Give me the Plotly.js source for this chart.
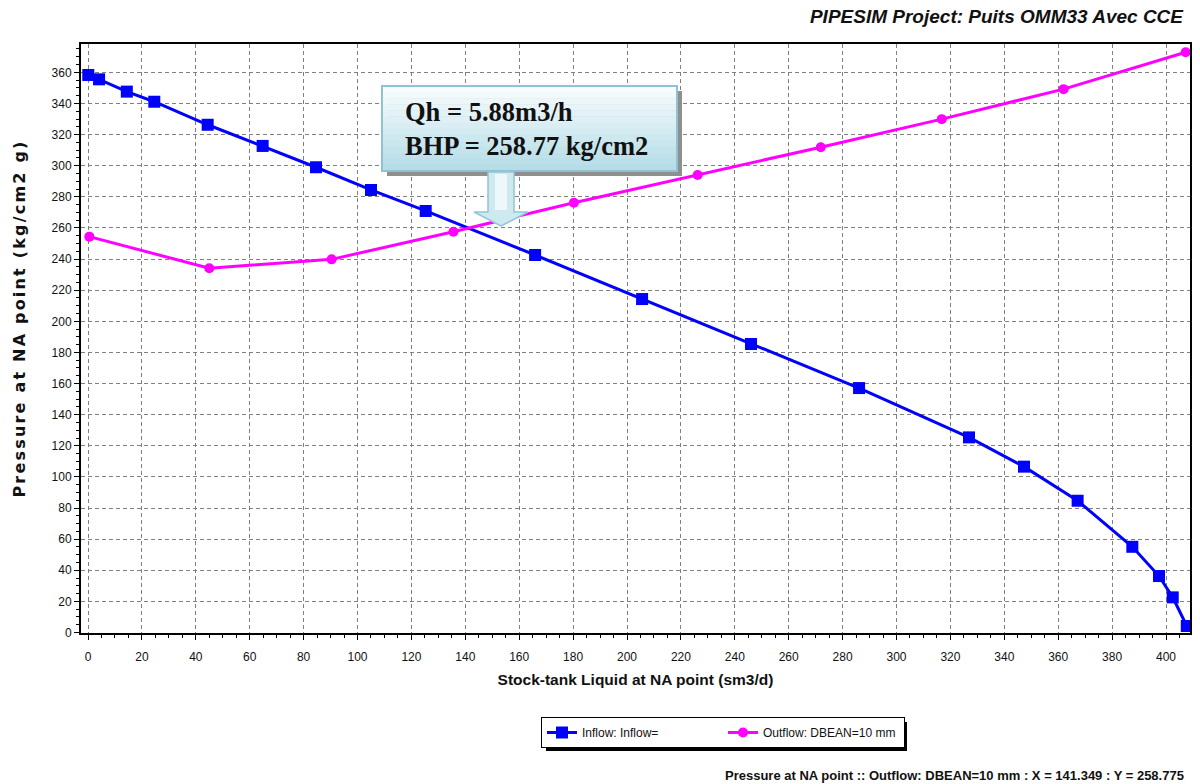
<!DOCTYPE html>
<html>
<head>
<meta charset="utf-8">
<script src="https://cdn.plot.ly/plotly-3.0.1.min.js"></script>
<style>
html,body{margin:0;padding:0;background:#fff;}
#chart{width:1200px;height:784px;}
#chart .ytitle{letter-spacing:2.2px; translate:0px -20px;}
</style>
</head>
<body>
<div id="chart"></div>
<script>
// ---- data ----
var inflowQ = [0.1, 4.1, 14.4, 24.6, 44.4, 64.8, 84.6, 105.0, 125.3, 165.9, 205.6, 246.0, 286.1, 326.9, 347.3, 367.2, 387.5, 397.4, 402.5, 407.7];
var inflowP = [358.3, 355.5, 347.6, 341.1, 326.3, 312.7, 299.0, 284.4, 270.9, 242.6, 214.3, 185.4, 157.1, 125.4, 106.6, 84.7, 55.1, 36.3, 22.6, 4.2];
var outflowQ = [0.5, 45.0, 90.4, 135.6, 180.3, 226.2, 271.9, 316.8, 362.0, 407.3];
var outflowP = [254.4, 234.1, 239.8, 257.6, 276.2, 294.0, 311.9, 329.9, 349.2, 372.9];
var seriesNames = ['Inflow: Inflow=', 'Outflow: DBEAN=10 mm'];
var chartTitle = 'PIPESIM Project: Puits OMM33 Avec CCE';
var xTitle = 'Stock-tank Liquid at NA point (sm3/d)';
var yTitle = 'Pressure at NA point (kg/cm2 g)';
var boxText = 'Qh = 5.88m3/h<br>BHP = 258.77 kg/cm2';
var statusText = 'Pressure at NA point :: Outflow: DBEAN=10 mm : X = 141.349 : Y = 258.775';

// ---- layout geometry (pixels) ----
var W = 1200, H = 784;
var M = {l: 81, r: 10, t: 44, b: 151};
var PW = W - M.l - M.r, PH = H - M.t - M.b;
function px(x) { return (x - M.l) / PW; }
function py(y) { return 1 - (y - M.t) / PH; }

var shapes = [];
// callout box shadow
shapes.push({type: 'rect', xref: 'paper', yref: 'paper', x0: px(387), x1: px(682), y0: py(91), y1: py(176),
  fillcolor: '#8f8f8f', line: {width: 0}, layer: 'above'});
// gradient fill of the box
var nStrips = 14, boxTop = 86, boxBot = 171, c0 = [250, 253, 254], c1 = [178, 219, 230];
for (var i = 0; i < nStrips; i++) {
  var t = (i + 0.5) / nStrips;
  var c = 'rgb(' + Math.round(c0[0] + (c1[0] - c0[0]) * t) + ',' + Math.round(c0[1] + (c1[1] - c0[1]) * t) + ',' + Math.round(c0[2] + (c1[2] - c0[2]) * t) + ')';
  shapes.push({type: 'rect', xref: 'paper', yref: 'paper', x0: px(382), x1: px(677),
    y0: py(boxTop + (boxBot - boxTop) * (i + 1) / nStrips + 0.5), y1: py(boxTop + (boxBot - boxTop) * i / nStrips),
    fillcolor: c, line: {width: 0}, layer: 'above'});
}
shapes.push({type: 'rect', xref: 'paper', yref: 'paper', x0: px(382), x1: px(677), y0: py(171), y1: py(86),
  fillcolor: 'rgba(0,0,0,0)', line: {color: '#8fc3d2', width: 2}, layer: 'above'});
// arrow (shaft + head)
function P(x, y) { return px(x).toFixed(5) + ',' + py(y).toFixed(5); }
var arrowPath = 'M' + P(488, 172) + ' L' + P(514, 172) + ' L' + P(514, 212) + ' L' + P(528, 212) + ' L' + P(501, 226) +
  ' L' + P(474, 212) + ' L' + P(488, 212) + ' Z';
shapes.push({type: 'path', xref: 'paper', yref: 'paper', path: arrowPath,
  fillcolor: '#cfe9f0', line: {color: '#93c5d3', width: 1.5}, layer: 'above'});
shapes.push({type: 'rect', xref: 'paper', yref: 'paper', x0: px(495), x1: px(507), y0: py(210), y1: py(174),
  fillcolor: '#eef8fb', line: {width: 0}, layer: 'above'});
// legend shadow
shapes.push({type: 'rect', xref: 'paper', yref: 'paper', x0: px(546), x1: px(907), y0: py(751), y1: py(722),
  fillcolor: '#000', line: {width: 0}, layer: 'below'});

var traces = [
  {x: inflowQ, y: inflowP, name: seriesNames[0], type: 'scatter', mode: 'lines+markers',
   line: {color: '#0000ff', width: 3}, marker: {symbol: 'square', size: 12, color: '#0000ff'}, cliponaxis: true},
  {x: outflowQ, y: outflowP, name: seriesNames[1], type: 'scatter', mode: 'lines+markers',
   line: {color: '#ff00ff', width: 3}, marker: {symbol: 'circle', size: 10, color: '#ff00ff'}, cliponaxis: true}
];

var tickFont = {family: 'Liberation Sans, Arial, sans-serif', size: 12, color: '#111'};
var layout = {
  width: W, height: H,
  margin: M,
  paper_bgcolor: '#fff', plot_bgcolor: '#fff',
  showlegend: true,
  title: {text: chartTitle, xref: 'container', yref: 'container', x: 1183 / W, xanchor: 'right', y: 1 - 16 / H, yanchor: 'middle',
    font: {family: 'Liberation Sans, Arial, sans-serif', size: 19, weight: 'bold', style: 'italic', color: '#111'}},
  xaxis: {
    range: [-2.6, 408.9], tickmode: 'linear', tick0: 0, dtick: 20,
    showgrid: true, gridcolor: '#808080', gridwidth: 1, griddash: '4px,3px',
    zeroline: false, showline: true, linecolor: '#000', linewidth: 2, mirror: true,
    ticks: 'outside', ticklen: 5, tickcolor: '#000', tickwidth: 1, ticklabelstandoff: 7,
    minor: {dtick: 5, ticks: 'outside', ticklen: 3, tickcolor: '#000', showgrid: false},
    tickfont: tickFont,
    title: {text: xTitle, standoff: 11, font: {family: 'Liberation Sans, Arial, sans-serif', size: 15.5, weight: 'bold', color: '#111'}},
    automargin: false
  },
  yaxis: {
    range: [-0.3, 378.2], tickmode: 'linear', tick0: 0, dtick: 20,
    showgrid: true, gridcolor: '#808080', gridwidth: 1, griddash: '4px,3px',
    zeroline: false, showline: true, linecolor: '#000', linewidth: 2, mirror: true,
    ticks: 'outside', ticklen: 5, tickcolor: '#000', tickwidth: 1,
    minor: {dtick: 5, ticks: 'outside', ticklen: 3, tickcolor: '#000', showgrid: false},
    tickfont: tickFont,
    title: {text: yTitle, standoff: 22, font: {family: 'DejaVu Sans, Verdana, sans-serif', size: 16, weight: 'bold', color: '#111'}},
    automargin: false
  },
  legend: {orientation: 'h', x: px(541), y: py(717), xanchor: 'left', yanchor: 'top',
    bgcolor: '#fff', bordercolor: '#000', borderwidth: 1, entrywidth: 136, itemwidth: 30,
    font: {family: 'Liberation Sans, Arial, sans-serif', size: 12, color: '#111'}},
  shapes: shapes,
  annotations: [
    {text: boxText, xref: 'paper', yref: 'paper', x: px(403), y: py(129), xanchor: 'left', yanchor: 'middle', align: 'left',
     showarrow: false, font: {family: 'Liberation Serif, Times New Roman, serif', size: 26.5, weight: 'bold', color: '#111'}},
    {text: statusText, xref: 'paper', yref: 'paper', x: px(1186), y: py(775), xanchor: 'right', yanchor: 'middle',
     showarrow: false, font: {family: 'Liberation Sans, Arial, sans-serif', size: 13, weight: 'bold', color: '#111'}}
  ],
  hovermode: false
};

Plotly.newPlot('chart', traces, layout, {displayModeBar: false, staticPlot: true});
</script>
</body>
</html>
